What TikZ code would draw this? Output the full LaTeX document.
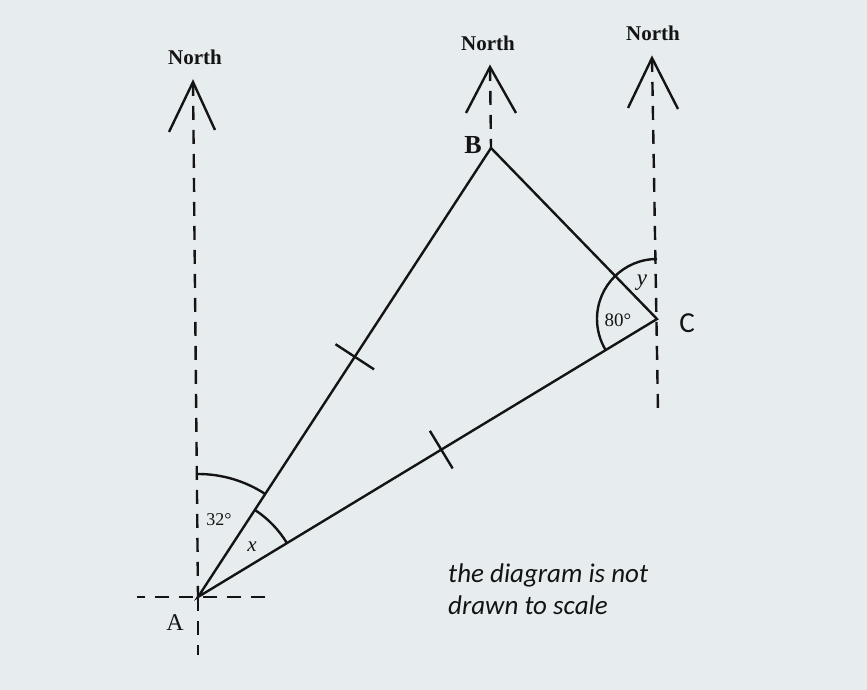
\documentclass[tikz,border=0pt]{standalone}
\usepackage{fontspec}
\setmainfont{Liberation Serif}
\newfontfamily\calib{Carlito}
\usetikzlibrary{calc}
\definecolor{bg}{RGB}{231,237,239}
\definecolor{ink}{RGB}{20,20,20}
\begin{document}
\begin{tikzpicture}[x=1pt,y=1pt,
  solidline/.style={line width=2.4pt, ink},
  dashline/.style={line width=2.4pt, ink, dash pattern=on 14pt off 10pt},
  northlbl/.style={font=\bfseries\fontsize{21}{21}\selectfont, inner sep=0pt, ink},
  lbl/.style={inner sep=0pt, ink}
]
\fill[bg] (0,0) rectangle (867,690);
\useasboundingbox (0,0) rectangle (867,690);

% points
\coordinate (A) at (198,93);
\coordinate (B) at (491,542);
\coordinate (C) at (657,371);
\coordinate (NL) at (193,608);
\coordinate (NM) at (490,623);
\coordinate (NR) at (652,632);
\coordinate (AW) at (137,93);
\coordinate (AE) at (265,93);
\coordinate (AS) at (198,35);
\coordinate (CS) at (658,278);

% north lines
\draw[dashline] (NL) -- (A);
\draw[dashline] (A) -- (AS);
\draw[dashline] (AE) -- (AW);
\draw[dashline] (NM) -- (B);
\draw[dashline] (NR) -- (CS);

% north arrowheads
\draw[solidline] ($(NL)+(-24,-50)$) -- (NL) -- ($(NL)+(22,-48)$);
\draw[solidline] ($(NM)+(-24,-46)$) -- (NM) -- ($(NM)+(26,-46)$);
\draw[solidline] ($(NR)+(-24,-50)$) -- (NR) -- ($(NR)+(26,-51)$);

% triangle
\draw[solidline] (A) -- (B) -- (C) -- cycle;

% angle arcs
\draw[solidline] ([shift={(90:123)}]A) arc[start angle=90,end angle=56.9,radius=123];
\draw[solidline] ([shift={(56.9:104)}]A) arc[start angle=56.9,end angle=31.2,radius=104];
\draw[solidline] ([shift={(90:60)}]C) arc[start angle=90,end angle=211.2,radius=60];

% equal-length ticks
\coordinate (TB) at ($(A)!0.535!(B)$);
\draw[solidline] ($(TB)!23pt!90:(B)$) -- ($(TB)!23pt!-90:(B)$);
\coordinate (TC) at ($(A)!0.53!(C)$);
\draw[solidline] ($(TC)!22pt!90:(C)$) -- ($(TC)!22pt!-90:(C)$);

% labels
\node[northlbl] (n1) at (195,633) {North};
\node[northlbl] (n2) at (488,647) {North};
\node[northlbl] (n3) at (653,657) {North};
\node[lbl, font=\fontsize{24}{24}\selectfont] (la) at (175,67) {A};
\node[lbl, font=\bfseries\fontsize{26}{26}\selectfont] (lb) at (473,545) {B};
\node[lbl, font=\calib\fontsize{29}{29}\selectfont] (lc) at (687,367) {C};
\node[lbl, font=\fontsize{18}{18}\selectfont] (a32) at (219,170) {32°};
\node[lbl, font=\itshape\fontsize{21}{21}\selectfont] (ax) at (252,143) {x};
\node[lbl, font=\fontsize{19}{19}\selectfont] (a80) at (618,370) {80°};
\node[lbl, font=\itshape\fontsize{23}{23}\selectfont] (ay) at (642,407) {y};
\node[lbl, font=\calib\itshape\fontsize{27}{32}\selectfont, anchor=base west] (t1) at (448,107) {the diagram is not};
\node[lbl, font=\calib\itshape\fontsize{27}{32}\selectfont, anchor=base west] (t2) at (448,75) {drawn to scale};
\end{tikzpicture}
\end{document}
